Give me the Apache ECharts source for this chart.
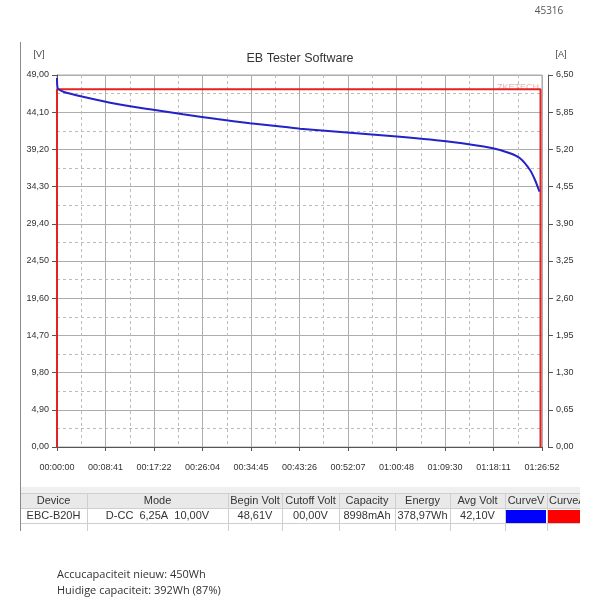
<!DOCTYPE html>
<html><head><meta charset="utf-8">
<script src="https://cdn.jsdelivr.net/npm/echarts/dist/echarts.min.js"></script>
<style>html,body{margin:0;padding:0;background:#fff}#c{width:600px;height:600px}</style>
</head><body><div id="c"></div>
<script>
// ---- data ----
const timeSec = [0, 8, 68, 279, 645, 999, 1354, 1719, 2074, 2429, 2611, 3149, 3686, 4223, 4685, 4868, 4976, 5083, 5137, 5185];
const voltage = [48.61, 47.25, 46.8, 46.14, 45.18, 44.48, 43.82, 43.20, 42.64, 42.19, 41.92, 41.40, 40.87, 40.21, 39.35, 38.69, 38.03, 36.49, 35.17, 33.63];
const currentTime = [0, 0, 5196, 5196];
const currentAmp = [0, 6.25, 6.25, 0];
const xTickLabels = ['00:00:00','00:08:41','00:17:22','00:26:04','00:34:45','00:43:26','00:52:07','01:00:48','01:09:30','01:18:11','01:26:52'];
const leftTickLabels = ['0,00','4,90','9,80','14,70','19,60','24,50','29,40','34,30','39,20','44,10','49,00'];
const rightTickLabels = ['0,00','0,65','1,30','1,95','2,60','3,25','3,90','4,55','5,20','5,85','6,50'];
const tableHeaders = ['Device','Mode','Begin Volt','Cutoff Volt','Capacity','Energy','Avg Volt','CurveV','CurveA'];
const tableValues = ['EBC-B20H','D-CC  6,25A  10,00V','48,61V','00,00V','8998mAh','378,97Wh','42,10V','',''];
const noteLines = ['Accucapaciteit nieuw: 450Wh', 'Huidige capaciteit: 392Wh (87%)'];

const X_MAX = 5212, X_INT = 521.2;
const voltData = timeSec.map((t, i) => [t, voltage[i]]);
const ampData = currentTime.map((t, i) => [t, currentAmp[i]]);

const FONT = 'Liberation Sans';
const colEdges = [20, 87, 228, 282, 339, 395, 450, 505, 547, 580];
const graphic = [];
graphic.push({type:'line', shape:{x1:20.5,y1:42,x2:20.5,y2:531}, style:{stroke:'#8a8a8a', lineWidth:1}});
graphic.push({type:'rect', shape:{x:21,y:487,width:559,height:6}, style:{fill:'#f0f0f0'}});
graphic.push({type:'rect', shape:{x:21,y:493,width:559,height:15}, style:{fill:'#e9e9e9'}});
[493.5, 508.5, 523.5].forEach(y => graphic.push({type:'line', shape:{x1:21,y1:y,x2:580,y2:y}, style:{stroke:'#cfcfcf', lineWidth:1}}));
colEdges.slice(1).forEach(x => graphic.push({type:'line', shape:{x1:x+0.5,y1:493,x2:x+0.5,y2:531}, style:{stroke:'#cfcfcf', lineWidth:1}}));
graphic.push({type:'rect', shape:{x:506,y:510,width:40,height:13}, style:{fill:'#0000ff'}});
graphic.push({type:'rect', shape:{x:548,y:510,width:32,height:13}, style:{fill:'#ff0000'}});
tableHeaders.forEach((h, i) => {
  const cx = (colEdges[i] + colEdges[i+1]) / 2;
  if (i === 8) {
    graphic.push({type:'text', x:549, y:501, style:{text:h, font:'11px ' + FONT, fill:'#333', textAlign:'left', textVerticalAlign:'middle'}});
  } else {
    graphic.push({type:'text', x:cx, y:501, style:{text:h, font:'11px ' + FONT, fill:'#333', textAlign:'center', textVerticalAlign:'middle'}});
  }
  if (tableValues[i]) {
    graphic.push({type:'text', x:cx, y:516, style:{text:tableValues[i], font:'11px ' + FONT, fill:'#333', textAlign:'center', textVerticalAlign:'middle'}});
  }
});
graphic.push({type:'rect', shape:{x:580,y:490,width:20,height:45}, style:{fill:'#fff'}});
graphic.push({type:'text', x:300, y:59, style:{text:'EB Tester Software', font:'12.5px ' + FONT, fill:'#333', textAlign:'center', textVerticalAlign:'middle'}});
graphic.push({type:'text', x:39, y:55, style:{text:'[V]', font:'9px ' + FONT, fill:'#444', textAlign:'center', textVerticalAlign:'middle'}});
graphic.push({type:'text', x:561, y:55, style:{text:'[A]', font:'9px ' + FONT, fill:'#444', textAlign:'center', textVerticalAlign:'middle'}});
graphic.push({type:'text', x:539, y:88, style:{text:'ZKETECH', font:'9px ' + FONT, fill:'#e9b4b4', textAlign:'right', textVerticalAlign:'middle'}});
graphic.push({type:'text', x:549, y:11, style:{text:'45316', font:'10px "Open Sans"', fill:'#555', textAlign:'center', textVerticalAlign:'middle'}});
noteLines.forEach((t, i) => graphic.push({type:'text', x:57, y:575 + i*16, style:{text:t, font:'11px "Open Sans"', fill:'#333', textAlign:'left', textVerticalAlign:'middle'}}));

const chart = echarts.init(document.getElementById('c'), null, {renderer:'canvas'});
chart.setOption({
  animation: false,
  backgroundColor: '#fff',
  grid: {left:57, right:58, top:75, bottom:153, show:true, borderColor:'#a8a8a8', borderWidth:1, backgroundColor:'#fff'},
  xAxis: {
    type:'value', min:0, max:X_MAX, interval:X_INT, offset:5,
    axisLine:{show:true, lineStyle:{color:'#555'}},
    axisTick:{show:true, inside:false, length:4, lineStyle:{color:'#555'}},
    axisLabel:{margin:11, fontSize:9, fontFamily:FONT, color:'#333',
      formatter: v => xTickLabels[Math.round(v / X_INT)] || ''},
    splitLine:{show:true, lineStyle:{color:'#adadad', width:1}},
    minorTick:{show:false, splitNumber:2},
    minorSplitLine:{show:true, lineStyle:{color:'#bcbcbc', type:[3,3], width:1}}
  },
  yAxis: [{
    type:'value', min:0, max:49, interval:4.9, position:'left', offset:5,
    axisLine:{show:true, lineStyle:{color:'#555'}},
    axisTick:{show:true, length:5, lineStyle:{color:'#555'}},
    axisLabel:{margin:3, fontSize:9, fontFamily:FONT, color:'#333',
      formatter: v => leftTickLabels[Math.round(v / 4.9)] || ''},
    splitLine:{show:true, lineStyle:{color:'#adadad', width:1}},
    minorTick:{show:false, splitNumber:2},
    minorSplitLine:{show:true, lineStyle:{color:'#bcbcbc', type:[3,3], width:1}}
  },{
    type:'value', min:0, max:6.5, interval:0.65, position:'right', offset:6,
    axisLine:{show:true, lineStyle:{color:'#555'}},
    axisTick:{show:true, length:5, lineStyle:{color:'#555'}},
    axisLabel:{margin:8, fontSize:9, fontFamily:FONT, color:'#333',
      formatter: v => rightTickLabels[Math.round(v / 0.65)] || ''},
    splitLine:{show:false}
  }],
  series: [{
    name:'CurveA', type:'line', yAxisIndex:1, data:ampData, showSymbol:false,
    lineStyle:{color:'#e32222', width:2}, z:2
  },{
    name:'CurveV', type:'line', yAxisIndex:0, data:voltData, showSymbol:false,
    smooth:0.25,
    lineStyle:{color:'#2323c8', width:2}, z:3
  }],
  graphic: graphic
});
</script></body></html>
